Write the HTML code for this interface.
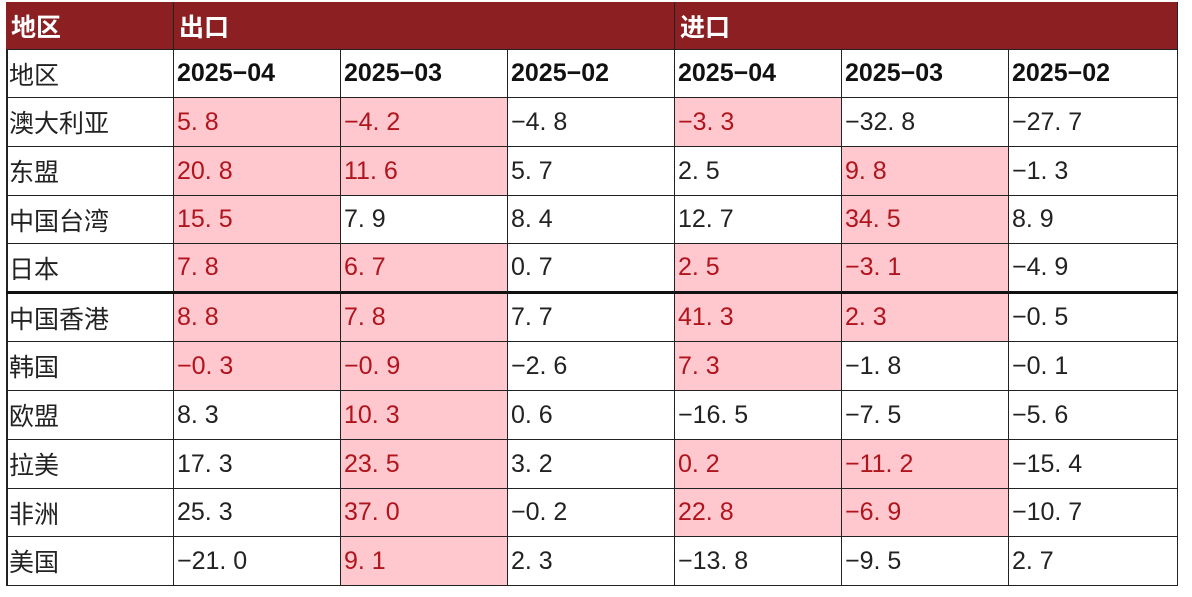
<!DOCTYPE html>
<html><head><meta charset="utf-8"><style>
body{margin:0;width:1192px;height:597px;background:#fff;position:relative;overflow:hidden;font-family:"Liberation Sans","Noto Sans CJK SC",sans-serif}
.c{position:absolute;box-sizing:border-box;border-right:1.5px solid #222;border-bottom:1.5px solid #222;font-size:25px;padding-left:3px;display:flex;align-items:center;color:#222;white-space:pre}
.h{background:#8b1f22;color:#fff;font-weight:bold;border-color:#222;padding-left:5px}
.b{font-weight:bold;color:#111}
.hl{background:#ffc7ce;color:#b0141c}
#tbl{position:absolute;left:6px;top:2px;width:1172px;height:584px;border-left:2px solid #222;border-top:2px solid #222;box-sizing:border-box}
</style></head><body>
<div id="tbl"></div>
<script>
const regions=["澳大利亚","东盟","中国台湾","日本","中国香港","韩国","欧盟","拉美","非洲","美国"];
const months=["2025-04","2025-03","2025-02","2025-04","2025-03","2025-02"];
const values=[
["5. 8","-4. 2","-4. 8","-3. 3","-32. 8","-27. 7"],
["20. 8","11. 6","5. 7","2. 5","9. 8","-1. 3"],
["15. 5","7. 9","8. 4","12. 7","34. 5","8. 9"],
["7. 8","6. 7","0. 7","2. 5","-3. 1","-4. 9"],
["8. 8","7. 8","7. 7","41. 3","2. 3","-0. 5"],
["-0. 3","-0. 9","-2. 6","7. 3","-1. 8","-0. 1"],
["8. 3","10. 3","0. 6","-16. 5","-7. 5","-5. 6"],
["17. 3","23. 5","3. 2","0. 2","-11. 2","-15. 4"],
["25. 3","37. 0","-0. 2","22. 8","-6. 9","-10. 7"],
["-21. 0","9. 1","2. 3","-13. 8","-9. 5","2. 7"]];
const highlight=[
[1,1,0,1,0,0],[1,1,0,0,1,0],[1,0,0,0,1,0],[1,1,0,1,1,0],[1,1,0,1,1,0],
[1,1,0,1,0,0],[0,1,0,0,0,0],[0,1,0,1,1,0],[0,1,0,1,1,0],[0,1,0,0,0,0]];
const colX=[6,174,341,508,675,842,1009,1178];
const rowY=[2,50,98,147,196,244,294,342,391,440,489,537,586];
function cell(x0,x1,y0,y1,txt,cls,name){
  const d=document.createElement('div');
  d.className='c '+cls;
  d.style.left=x0+'px';d.style.top=y0+'px';d.style.width=(x1-x0)+'px';d.style.height=(y1-y0)+'px';
  d.textContent=txt.replace(/-/g,'−');
  
  
  document.body.appendChild(d);return d;
}
cell(colX[0],colX[1],rowY[0],rowY[1],"地区","h","header-region");
cell(colX[1],colX[4],rowY[0],rowY[1],"出口","h","header-export");
cell(colX[4],colX[7],rowY[0],rowY[1],"进口","h","header-import");
cell(colX[0],colX[1],rowY[1],rowY[2],"地区","","subheader-region");
months.forEach((m,j)=>{
  cell(colX[j+1],colX[j+2],rowY[1],rowY[2],m,"b","month-header");
});
regions.forEach((r,i)=>{
  const d=cell(colX[0],colX[1],rowY[i+2],rowY[i+3],r,"","region-label");
  if(i===3)d.style.borderBottom='3px solid #111';
  values[i].forEach((v,j)=>{
    const c=cell(colX[j+1],colX[j+2],rowY[i+2],rowY[i+3],v,highlight[i][j]?"hl":"","value-cell");
    if(i===3)c.style.borderBottom='3px solid #111';
  });
});
</script>
</body></html>
